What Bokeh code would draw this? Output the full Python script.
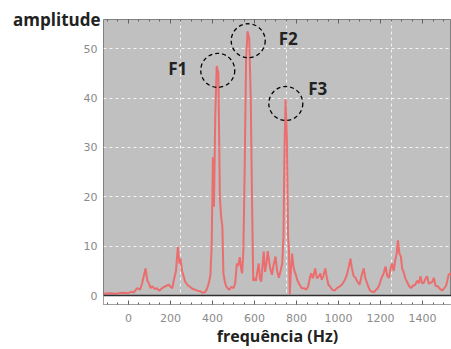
from bokeh.plotting import figure
from bokeh.models import FixedTicker, LinearAxis, BoxAnnotation, Span, Range1d, ColumnDataSource
from bokeh.core.properties import value
from bokeh.embed import file_html
from bokeh.resources import INLINE

# Spectrum data (Hz, amplitude)
freq = [-120, -90, -60, -30, 0, 15, 25, 41, 55, 65, 81, 90, 97, 105, 113, 125, 135, 146, 160, 176,
        192, 208, 218, 226, 235, 242, 248, 255, 262, 270, 280, 292, 304, 316, 328, 340, 352, 364, 372, 378,
        385, 390, 396, 402, 407, 413, 420, 428, 435, 441, 447, 452, 458, 464, 472, 480, 490, 500, 508, 516,
        522, 530, 536, 541, 547, 553, 560, 567, 575, 582, 588, 594, 600, 607, 614, 620, 626, 632, 638, 644,
        650, 657, 663, 668, 675, 683, 690, 700, 708, 716, 724, 732, 738, 743, 748, 754, 760, 764, 768, 773,
        779, 785, 790, 797, 805, 815, 825, 835, 846, 855, 863, 870, 878, 889, 897, 905, 913, 920, 928, 937,
        945, 952, 960, 970, 981, 992, 1004, 1016, 1028, 1040, 1050, 1057, 1064, 1072, 1081, 1090, 1100, 1110, 1120, 1128,
        1134, 1142, 1150, 1160, 1167, 1175, 1186, 1195, 1204, 1215, 1224, 1232, 1240, 1248, 1255, 1263, 1270, 1277, 1283, 1290,
        1297, 1303, 1310, 1318, 1326, 1335, 1345, 1355, 1365, 1375, 1383, 1390, 1398, 1406, 1415, 1422, 1430, 1438, 1446, 1454,
        1462, 1472, 1483, 1494, 1504, 1512, 1518, 1524, 1532, 1540]
amplitude = [0.4, 0.5, 0.4, 0.6, 0.5, 0.8, 0.6, 1.5, 1.2, 2.5, 5.5, 3.0, 2.5, 1.5, 1.9, 1.3, 1.5, 1.0, 1.5, 1.9,
             2.2, 1.5, 3.5, 5.0, 9.9, 6.5, 7.5, 5.0, 4.0, 2.8, 2.2, 1.8, 1.4, 1.2, 1.0, 0.9, 0.6, 0.7, 1.2, 1.9,
             3.0, 4.2, 10.0, 28.0, 18.0, 36.0, 46.5, 45.0, 20.0, 16.0, 14.0, 4.5, 3.0, 2.0, 1.5, 1.2, 1.8, 1.5, 2.5, 6.5,
             6.0, 7.8, 5.5, 4.5, 9.0, 25.0, 48.0, 53.5, 52.0, 40.0, 20.0, 3.0, 3.5, 3.0, 5.0, 6.5, 3.5, 2.8, 6.0, 8.9,
             4.8, 6.5, 9.0, 7.5, 5.5, 4.2, 6.0, 7.9, 5.0, 3.6, 5.0, 6.5, 12.0, 30.0, 39.8, 32.0, 12.0, 9.5, 0.3, 5.0,
             8.5, 6.0, 5.0, 4.2, 3.0, 2.2, 1.5, 1.5, 1.2, 1.8, 3.5, 4.5, 3.5, 5.5, 3.5, 3.8, 4.5, 3.2, 4.0, 5.5,
             3.5, 2.2, 1.8, 1.2, 1.0, 1.5, 1.8, 2.2, 3.0, 4.2, 6.0, 7.5, 5.5, 4.0, 3.6, 2.8, 2.2, 4.0, 5.5, 3.5,
             2.8, 1.8, 1.0, 0.8, 0.7, 1.0, 1.5, 2.2, 3.5, 4.5, 5.9, 4.0, 3.6, 5.5, 6.5, 5.0, 7.2, 8.5, 11.2, 8.5,
             7.9, 5.5, 4.8, 3.5, 2.8, 2.0, 1.5, 2.0, 2.2, 3.0, 2.5, 3.9, 2.5, 2.6, 3.5, 3.9, 2.4, 2.6, 2.8, 3.6,
             2.0, 1.9, 1.4, 1.0, 1.5, 2.0, 3.0, 4.2, 4.5, 4.0]

# Marked peaks (circle centres) and their labels
peak_freq = [425, 570, 749]
peak_amp = [45.6, 51.6, 38.9]
peak_labels = ["F1", "F2", "F3"]

x_ticks = [0, 200, 400, 600, 800, 1000, 1200, 1400]
x_minor = list(range(-100, 1550, 50))
x_grid = [250, 750, 1250]
y_ticks = [0, 10, 20, 30, 40, 50]
y_grid = [10, 20, 30, 40, 50]

x_start, x_end = -119, 1538
y_start, y_end = -1.8, 55.9

p = figure(width=451, height=349, x_range=Range1d(x_start, x_end), y_range=Range1d(y_start, y_end),
           output_backend="svg", toolbar_location=None,
           min_border_left=103, min_border_right=0, min_border_top=19, min_border_bottom=43,
           background_fill_color="#c0c0c0", border_fill_color="white",
           outline_line_color="#808080", outline_line_width=1)

# white strip below zero
p.add_layout(BoxAnnotation(top=0, fill_color="white", fill_alpha=1, line_color=None, level="underlay"))

p.xaxis.ticker = FixedTicker(ticks=x_ticks, minor_ticks=x_minor)
p.xaxis.axis_line_color = None
p.xaxis.major_tick_in = 4
p.xaxis.major_tick_out = 0
p.xaxis.minor_tick_in = 2
p.xaxis.minor_tick_out = 0
p.xaxis.major_tick_line_color = "#606060"
p.xaxis.minor_tick_line_color = "#606060"
p.xaxis.major_label_standoff = 9
p.xaxis.major_label_text_font = "DejaVu Sans"
p.xaxis.major_label_text_font_size = "11px"
p.xaxis.major_label_text_color = "#8a8a8a"
p.xaxis.axis_label = "frequência (Hz)"
p.xaxis.axis_label_standoff = 0
p.xaxis.axis_label_text_font = "Open Sans"
p.xaxis.axis_label_text_font_style = "bold"
p.xaxis.axis_label_text_font_size = "16px"
p.xaxis.axis_label_text_color = "#222222"

p.yaxis.ticker = FixedTicker(ticks=y_ticks)
p.yaxis.axis_line_color = None
p.yaxis.major_tick_in = 0
p.yaxis.major_tick_out = 0
p.yaxis.minor_tick_line_color = None
p.yaxis.major_label_standoff = 6
p.yaxis.major_label_text_font = "DejaVu Sans"
p.yaxis.major_label_text_font_size = "11px"
p.yaxis.major_label_text_color = "#8a8a8a"
p.yaxis.axis_label = "amplitude"
p.yaxis.axis_label_orientation = "horizontal"
p.yaxis.axis_label_align = "end"
p.yaxis.axis_label_standoff = -20
p.yaxis.axis_label_text_font = "Open Sans"
p.yaxis.axis_label_text_font_style = "bold"
p.yaxis.axis_label_text_font_size = "17px"
p.yaxis.axis_label_text_color = "#222222"

top_axis = LinearAxis(ticker=FixedTicker(ticks=x_ticks, minor_ticks=x_minor),
                      major_label_overrides={t: "" for t in x_ticks},
                      major_label_text_font_size="1px", major_label_standoff=0,
                      major_tick_in=4, major_tick_out=0, minor_tick_in=2, minor_tick_out=0,
                      major_tick_line_color="#606060", minor_tick_line_color="#606060",
                      axis_line_color=None)
p.add_layout(top_axis, "above")

p.xgrid.ticker = FixedTicker(ticks=x_grid)
p.ygrid.ticker = FixedTicker(ticks=y_grid)
for g in (p.xgrid, p.ygrid):
    g.grid_line_color = "white"
    g.grid_line_alpha = 0.8
    g.grid_line_dash = "3 3"
    g.grid_line_width = 1

p.line(freq, amplitude, line_color="#f06464", line_width=2, line_alpha=0.9)

p.add_layout(Span(location=0, dimension="width", line_color="#303030", line_width=1.5))

src = ColumnDataSource(dict(x=peak_freq, y=peak_amp, t=peak_labels,
                            dx=[-40, 40, 32], dy=[-2, -2, -15]))
p.scatter("x", "y", source=src, marker="circle", size=34, fill_color=None,
          line_color="black", line_width=1.3, line_dash="4 3")
p.text("x", "y", text="t", source=src, x_offset="dx", y_offset="dy",
       text_align="center", text_baseline="middle",
       text_font=value("Open Sans"), text_font_style="bold", text_font_size="17px", text_color="#222222")

open("out.html", "w").write(file_html(p, INLINE))
